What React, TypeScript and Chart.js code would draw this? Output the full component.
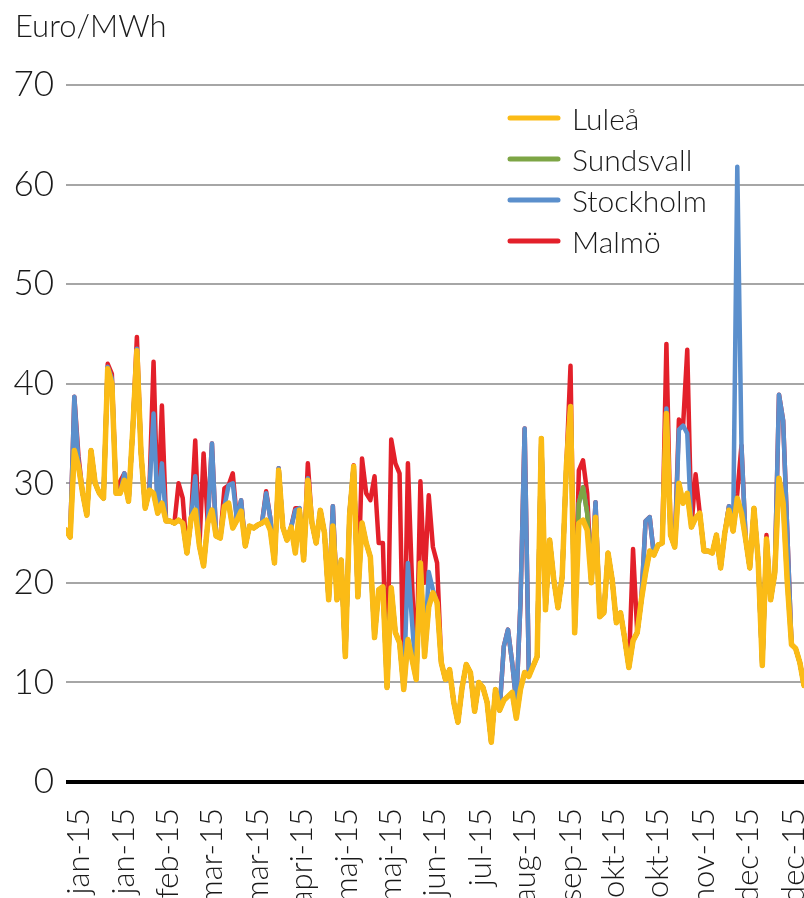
import { useEffect, useRef } from 'react';
import { Chart, registerables } from 'chart.js';

Chart.register(...registerables);

const SERIES_NAMES = ['Luleå', 'Sundsvall', 'Stockholm', 'Malmö'];
const Y_TITLE = 'Euro/MWh';

// one value every 2 days, starting 1 Jan 2015
const DAYS_PER_POINT = 2;

const LULEA = [
  25.3, 24.6, 33.3, 31.7, 29, 26.8, 33.3, 30, 29, 28.5,
  41.5, 40, 29, 29, 30.3, 28.2, 35.3, 43.3, 33, 27.5,
  29.3, 29, 27, 28, 26.2, 26.2, 26, 26.3, 26, 23,
  26.5, 27.3, 23.7, 21.7, 26, 27.3, 24.7, 24.5, 27.7, 28,
  25.5, 26.3, 27.2, 23.7, 25.7, 25.5, 25.8, 26, 26.3, 25.3,
  22, 31.3, 25.6, 24.3, 25.6, 23, 27.3, 22.3, 30.3, 26,
  24, 27.3, 25, 18.3, 25.7, 18.3, 22.3, 12.6, 26.7, 31.7,
  18.6, 26, 24, 22.6, 14.5, 19.3, 19.6, 9.5, 19.5, 15,
  14, 9.3, 14.3, 12.3, 10.3, 22, 12.6, 17.6, 19, 18,
  12, 10.3, 11.3, 8, 6, 9.5, 11.8, 11, 7.1, 10,
  9.5, 8, 4, 9.3, 7.2, 8.2, 8.6, 9, 6.4, 9.3,
  11, 10.6, 11.6, 12.6, 34.5, 17.3, 24.3, 20.3, 17.5, 20.6,
  31.7, 37.7, 15, 26, 26.3, 25.3, 20, 26.6, 16.6, 17,
  23, 20.3, 16, 17, 14.4, 11.5, 14.2, 15, 18.3, 21,
  23.2, 22.8, 23.8, 24, 37, 24.8, 23.6, 30, 28, 29,
  25.6, 26.5, 27, 23.2, 23.2, 23, 24.8, 21.5, 25, 27.3,
  25.2, 28.5, 27, 24.4, 21.5, 27.5, 22.3, 11.7, 24.4, 18.3,
  21, 30.5, 28, 20, 13.8, 13.4, 12, 9.7, 16,
];

const SUNDSVALL = [
  25.3, 24.6, 33.3, 31.7, 29, 26.8, 33.3, 30, 29, 28.5,
  41.5, 40, 29, 29, 30.3, 28.2, 35.3, 43.3, 33, 27.5,
  29.3, 29, 27, 28, 26.2, 26.2, 26, 26.3, 26, 23,
  26.5, 27.3, 23.7, 21.7, 26, 27.3, 24.7, 24.5, 27.7, 28,
  25.5, 26.3, 27.2, 23.7, 25.7, 25.5, 25.8, 26, 26.3, 25.3,
  22, 31.3, 25.6, 24.3, 25.6, 23, 27.3, 22.3, 30.3, 26,
  24, 27.3, 25, 18.3, 25.7, 18.3, 22.3, 12.6, 26.7, 31.7,
  18.6, 26, 24, 22.6, 14.5, 19.3, 19.6, 9.5, 19.5, 15,
  14, 9.3, 14.3, 12.3, 10.3, 22, 12.6, 17.6, 19, 18,
  12, 10.3, 11.3, 8, 6, 9.5, 11.8, 11, 7.1, 10,
  9.5, 8, 4, 9.3, 7.2, 8.2, 8.6, 9, 6.4, 9.3,
  11, 10.6, 11.6, 12.6, 34.5, 17.3, 24.3, 20.3, 17.5, 20.6,
  31.7, 37.7, 15, 28, 29.6, 27, 20, 26.6, 16.6, 17,
  23, 20.3, 16, 17, 14.4, 11.5, 14.2, 15, 18.3, 21,
  23.2, 22.8, 23.8, 24, 37, 24.8, 23.6, 30, 28, 29,
  25.6, 26.5, 27, 23.2, 23.2, 23, 24.8, 21.5, 25, 27.3,
  25.2, 28.5, 27, 24.4, 21.5, 27.5, 22.3, 11.7, 24.4, 18.3,
  21, 30.5, 28, 20, 13.8, 13.4, 12, 9.7, 16,
];

const STOCKHOLM = [
  25.3, 24.6, 38.7, 32, 29, 26.8, 33.3, 30, 29, 28.5,
  41.7, 40.5, 29, 29, 31, 28.2, 35.3, 43.5, 33, 27.5,
  29.3, 37, 27, 32, 26.2, 26.2, 26, 26.3, 26, 23,
  26.5, 30.7, 23.7, 21.7, 26, 34, 24.7, 24.5, 27.7, 29.8,
  30, 26.3, 28.3, 23.7, 25.7, 25.5, 25.8, 26, 29, 26.5,
  22, 31.5, 25.6, 24.3, 25.6, 27.3, 27.5, 22.3, 30.5, 26,
  24, 27.3, 25, 18.3, 27.7, 18.3, 22.3, 12.6, 27, 31.7,
  18.6, 26, 24, 22.6, 14.5, 19.3, 19.6, 9.5, 19.5, 15,
  14, 9.3, 22, 16, 10.3, 22, 12.6, 21.1, 19.3, 18,
  12, 10.3, 11.3, 8, 6, 9.5, 11.8, 11, 7.1, 10,
  9.5, 8, 4, 9.3, 7.2, 13.6, 15.3, 12, 8, 18,
  35.5, 11, 11.6, 12.6, 34.5, 17.3, 24.3, 20.3, 17.5, 20.6,
  31.7, 37.7, 15, 28, 29.6, 27, 20, 28.1, 16.6, 17,
  23, 20.3, 16, 17, 14.4, 11.5, 14.2, 15, 18.3, 26.2,
  26.6, 22.8, 23.8, 24, 37.5, 24.8, 23.6, 35.4, 35.8, 35,
  25.6, 26.5, 27, 23.2, 23.2, 23, 24.8, 21.5, 25, 27.7,
  25.2, 61.8, 33.8, 24.4, 21.5, 27.5, 22.3, 11.7, 24.4, 18.3,
  21, 38.9, 36.3, 25, 13.8, 13.4, 12, 9.7, 16,
];

const MALMO = [
  25.3, 24.6, 38.7, 32.7, 29, 26.8, 33.3, 30, 29, 28.5,
  42, 41, 29, 30.2, 31, 28.2, 35.3, 44.7, 33, 27.5,
  29.3, 42.2, 27, 37.8, 26.2, 26.2, 26, 30, 28.5, 23,
  26.5, 34.3, 23.7, 33, 26, 34, 24.7, 24.5, 29.5, 29.8,
  31, 26.3, 28.3, 23.7, 25.7, 25.5, 25.8, 26, 29.2, 26.5,
  22, 31.5, 25.6, 24.3, 25.6, 27.5, 27.5, 22.3, 32, 26,
  24, 27.3, 25, 18.3, 27.7, 18.3, 22.3, 12.6, 27, 31.8,
  18.6, 32.5, 29, 28.3, 30.7, 24, 24, 9.5, 34.4, 32,
  31, 9.3, 32, 20, 10.5, 30.2, 20, 28.8, 23.6, 22,
  12, 10.3, 11.3, 8, 6, 9.5, 11.8, 11, 7.1, 10,
  9.5, 8, 4, 9.3, 7.2, 13.6, 15.3, 12, 8, 18,
  35.5, 11, 11.6, 12.6, 34.5, 17.3, 24.3, 20.3, 17.5, 20.6,
  31.7, 41.8, 15, 31.3, 32.3, 29, 20, 28.1, 16.6, 17,
  23, 20.3, 16, 17, 14.4, 11.5, 23.4, 15, 18.3, 26.2,
  26.6, 22.8, 23.8, 24, 44, 24.8, 23.6, 36.4, 35.8, 43.4,
  25.6, 30.9, 27, 23.2, 23.2, 23, 24.8, 21.5, 25, 27.7,
  25.2, 29, 33.8, 24.4, 21.5, 27.5, 22.3, 11.7, 24.8, 18.3,
  21, 38.9, 36.3, 25, 13.8, 13.4, 12, 9.7, 16,
];

const X_MAX_DAY = 354;
const TICK_DAYS = [6, 28, 49, 70, 92, 113, 135, 156, 177, 199, 220, 242, 263, 284, 306, 327, 349];
const TICK_LABELS = [
  'jan-15', 'jan-15', 'feb-15', 'mar-15', 'mar-15', 'apri-15', 'maj-15', 'maj-15', 'jun-15',
  'jul-15', 'aug-15', 'sep-15', 'okt-15', 'okt-15', 'nov-15', 'dec-15', 'dec-15',
];
const Y_MIN = 0;
const Y_MAX = 70;
const Y_STEP = 10;

const COLORS = ['#FBBB16', '#7DA545', '#5B8FCC', '#E3202A'];
const TEXT_COLOR = '#1a1a1a';
const FONT_FAMILY = 'Lato, "Noto Sans", sans-serif';

const overlayPlugin = {
  id: 'overlay',
  afterDraw(chart: any) {
    const ctx = chart.ctx as CanvasRenderingContext2D;
    ctx.save();
    ctx.fillStyle = TEXT_COLOR;
    ctx.font = `300 31px ${FONT_FAMILY}`;
    ctx.textBaseline = 'alphabetic';
    ctx.textAlign = 'left';
    ctx.fillText(Y_TITLE, 15, 37);
    chart.data.datasets.forEach((ds: any, k: number) => {
      const y = 118 + k * 41;
      ctx.strokeStyle = ds.borderColor;
      ctx.lineWidth = 5;
      ctx.lineCap = 'round';
      ctx.beginPath();
      ctx.moveTo(510, y);
      ctx.lineTo(558, y);
      ctx.stroke();
      ctx.fillStyle = TEXT_COLOR;
      ctx.font = `300 30px ${FONT_FAMILY}`;
      ctx.textBaseline = 'middle';
      ctx.fillText(ds.label, 572, y + 2);
    });
    ctx.restore();
  },
};

export default function App() {
  const ref = useRef<HTMLCanvasElement>(null);
  useEffect(() => {
    const series = [LULEA, SUNDSVALL, STOCKHOLM, MALMO];
    const chart = new Chart(ref.current as HTMLCanvasElement, {
      type: 'line',
      data: {
        datasets: series.map((vals, k) => ({
          label: SERIES_NAMES[k],
          data: vals.map((v, i) => ({ x: i * DAYS_PER_POINT, y: v })),
          borderColor: COLORS[k],
          backgroundColor: COLORS[k],
          borderWidth: k === 0 ? 5.5 : 4.5,
          pointRadius: 0,
          pointHoverRadius: 0,
          tension: 0,
          borderJoinStyle: 'round' as const,
          borderCapStyle: 'round' as const,
          fill: false,
        })),
      },
      options: {
        responsive: false,
        animation: false,
        devicePixelRatio: 1,
        events: [],
        layout: { padding: { top: 85, left: 0, right: 0, bottom: 0 } },
        plugins: {
          legend: { display: false },
          tooltip: { enabled: false },
          title: { display: false },
        },
        scales: {
          x: {
            type: 'linear',
            min: 0,
            max: X_MAX_DAY,
            afterBuildTicks: (s: any) => {
              s.ticks = TICK_DAYS.map((v) => ({ value: v }));
            },
            afterFit: (s: any) => {
              s.height = 116;
              s.paddingLeft = 0;
              s.paddingRight = 0;
            },
            grid: { display: false },
            border: { display: false },
            ticks: {
              autoSkip: false,
              maxRotation: 90,
              minRotation: 90,
              padding: 18,
              color: TEXT_COLOR,
              font: { family: FONT_FAMILY, size: 31, weight: '300' },
              callback: (_v: any, i: number) => TICK_LABELS[i],
            },
          },
          y: {
            min: Y_MIN,
            max: Y_MAX,
            afterFit: (s: any) => {
              s.width = 66;
            },
            ticks: {
              stepSize: Y_STEP,
              padding: 12,
              color: TEXT_COLOR,
              font: { family: FONT_FAMILY, size: 35, weight: '300' },
            },
            grid: {
              drawTicks: false,
              color: (c: any) => (c.tick && c.tick.value === 0 ? '#000000' : '#A6A6A6'),
              lineWidth: (c: any) => (c.tick && c.tick.value === 0 ? 4 : 2),
            },
            border: { display: false },
          },
        },
      },
      plugins: [overlayPlugin],
    } as any);
    return () => chart.destroy();
  }, []);
  return (
    <div style={{ position: 'fixed', left: 0, top: 0, width: 804, height: 898, background: '#fff', overflow: 'hidden' }}>
      <canvas ref={ref} width={804} height={898} style={{ display: 'block', width: 804, height: 898 }} />
    </div>
  );
}
